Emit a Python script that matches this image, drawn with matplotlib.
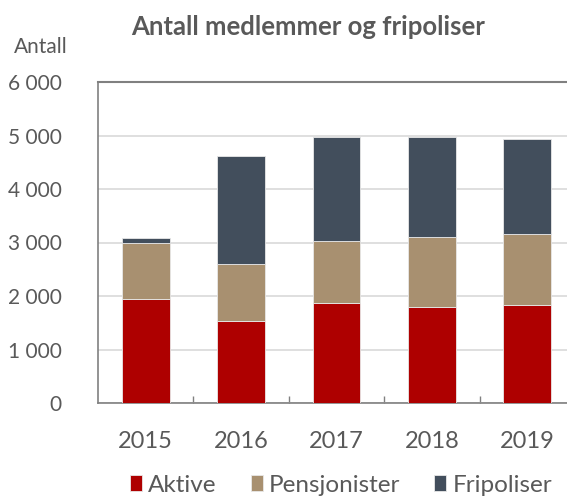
import matplotlib
matplotlib.use("Agg")
import matplotlib.pyplot as plt
import numpy as np

# data
years = ["2015", "2016", "2017", "2018", "2019"]
aktive = [1946, 1534, 1865, 1790, 1828]
pensjonister = [1042, 1066, 1171, 1310, 1334]
fripoliser = [93, 2021, 1935, 1871, 1777]
series_names = ["Aktive", "Pensjonister", "Fripoliser"]
yticks = [0, 1000, 2000, 3000, 4000, 5000, 6000]
ytick_labels = ["0", "1 000", "2 000", "3 000", "4 000", "5 000", "6 000"]

COLORS = ["#AE0000", "#A89070", "#424E5C"]
TXT = "#595959"

plt.rcParams["font.family"] = ["Lato", "DejaVu Sans"]

fig = plt.figure(figsize=(5.67, 4.97), dpi=100)
# axes right edge runs slightly past the image, as in the reference crop
ax = fig.add_axes([98 / 567, 1 - 403 / 497, (575 - 98) / 567, (403 - 82) / 497])

x = np.arange(len(years))
bottom = np.zeros(len(years))
for vals, name, col in zip([aktive, pensjonister, fripoliser], series_names, COLORS):
    ax.bar(x, vals, width=0.5, bottom=bottom, color=col, label=name,
           edgecolor="#E8E8E8", linewidth=0.6, zorder=3)
    bottom += np.array(vals)

ax.set_xlim(-0.5, len(years) - 0.5)
ax.set_ylim(0, 6000)
ax.set_yticks(yticks)
ax.set_yticklabels(ytick_labels)
ax.grid(axis="y", color="#D9D9D9", linewidth=1.2, zorder=0)
ax.tick_params(axis="y", length=0, labelsize=15, labelcolor=TXT, pad=26)

# category labels centred, tick marks at the category boundaries
ax.set_xticks(x)
ax.set_xticklabels(years)
ax.tick_params(axis="x", which="major", length=0, labelsize=17, labelcolor=TXT, pad=20)
ax.set_xticks(x[:-1] + 0.5, minor=True)
ax.tick_params(axis="x", which="minor", direction="in", length=5, color="#808080", width=1)

for side in ["left", "bottom"]:
    ax.spines[side].set_color("#808080")
    ax.spines[side].set_linewidth(1.2)
ax.spines["top"].set_color("#808080")
ax.spines["top"].set_linewidth(1.5)
ax.spines["right"].set_visible(False)

fig.text(308 / 567, 1 - 27 / 497, "Antall medlemmer og fripoliser", ha="center", va="center",
         fontsize=18.5, fontweight="bold", color=TXT)
fig.text(41 / 567, 1 - 47 / 497, "Antall", ha="center", va="center", fontsize=15, color=TXT)

ax.legend(loc="center", bbox_to_anchor=(341 / 567, 1 - 485 / 497), bbox_transform=fig.transFigure,
          ncol=3, frameon=False, fontsize=17.5, labelcolor=TXT, handlelength=0.5, handleheight=0.6,
          handletextpad=0.25, columnspacing=1.4)

fig.savefig("out.png", dpi=100)
